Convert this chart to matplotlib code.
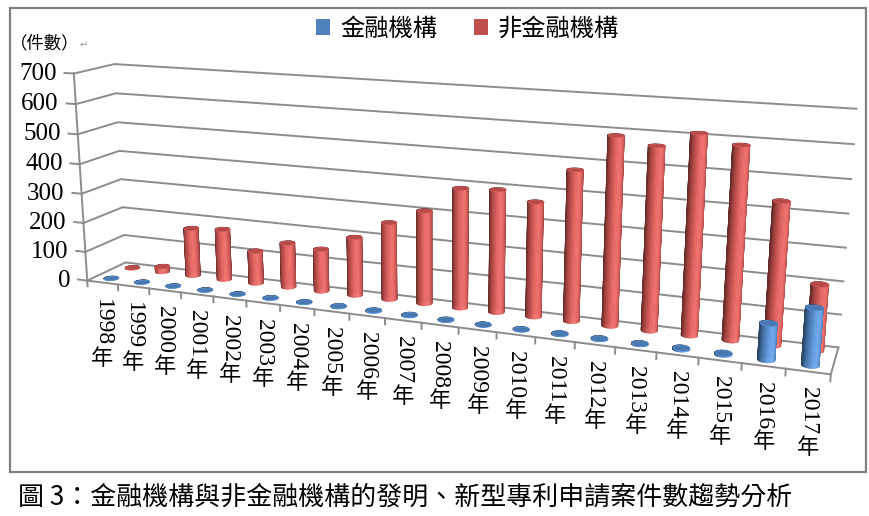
import numpy as np
import matplotlib
matplotlib.use('Agg')
import matplotlib.pyplot as plt
from matplotlib.patches import Patch, Rectangle
from matplotlib.transforms import offset_copy
from mpl_toolkits.mplot3d import proj3d
from mpl_toolkits.mplot3d.art3d import Poly3DCollection
import matplotlib.colors as mcolors

# data
years = ['1998', '1999', '2000', '2001', '2002', '2003', '2004',
         '2005', '2006', '2007', '2008', '2009', '2010', '2011',
         '2012', '2013', '2014', '2015', '2016', '2017']
fin = [1, 1, 1, 1, 1, 2, 2, 3, 3, 3, 2, 1, 1, 3, 3, 3, 5, 5, 110, 170]
nonfin = [3, 20, 167, 175, 112, 152, 143, 195, 255, 305, 388, 394, 366, 475,
          588, 566, 612, 586, 433, 200]
yticks = [0, 100, 200, 300, 400, 500, 600, 700]
series = ['金融機構', '非金融機構']
colors = ['#4F81BD', '#C0504D']

CJK = ['Noto Sans CJK TC', 'DejaVu Sans']
SERIF = ['Liberation Serif', 'Noto Sans CJK TC']
GRID = '#8c8c8c'
ELEV, AZIM = 14, -69

fig = plt.figure(figsize=(8.69, 5.16), dpi=100)

# square 3d axes spanning the whole width
ax = fig.add_axes([-0.013, -0.266, 1.0, 1.7], projection='3d', computed_zorder=False)
ax.set_axis_off()
ax.patch.set_alpha(0)
ax.set_proj_type('persp', focal_length=0.29)
ax.view_init(elev=ELEV, azim=AZIM)
x0, x1 = -0.5, len(years) - 0.5
y0, y1 = -0.42, 1.48
ax.set_xlim(x0, x1)
ax.set_ylim(y0, y1)
ax.set_zlim(0, yticks[-1])
ax.set_box_aspect((x1 - x0, y1 - y0, 5.8), zoom=0.92)
M = ax.get_proj()


def label2d(x, y, z, s, dx=0, dy=0, **kw):
    # put a flat 2d text next to a projected 3d point
    px, py, _ = proj3d.proj_transform(x, y, z, M)
    tr = offset_copy(ax.transData, fig=fig, x=dx, y=dy, units='dots')
    return ax.text2D(px, py, s, transform=tr, **kw)


# walls: gridlines on left wall + back wall
for v in yticks:
    ax.plot([x0, x0, x1], [y0, y1, y1], [v, v, v], color=GRID, lw=1.4,
            zorder=1, clip_on=False)
    ax.plot([x0 - 0.3, x0], [y0, y0], [v, v], color=GRID, lw=1.4,
            zorder=1, clip_on=False)
    label2d(x0, y0, v, str(v), dx=-17, ha='right', va='center', fontsize=18,
            family=SERIF)
# value axis and floor outline
ax.plot([x0, x0], [y0, y0], [0, yticks[-1]], color=GRID, lw=1.4, zorder=1, clip_on=False)
ax.plot([x0, x1, x1], [y0, y0, y1], [0, 0, 0], color=GRID, lw=1.4, zorder=1, clip_on=False)
for i in range(len(years) + 1):
    ax.plot([i - 0.5, i - 0.5], [y0, y0], [0, -20], color=GRID, lw=1.4,
            zorder=1, clip_on=False)
fs = 17
dig = fs * 100 / 72 * 0.5
for i, lab in enumerate(years):
    label2d(i, y0, 0, lab, dy=-16, rotation=-90, ha='center', va='top',
            fontsize=fs, family=SERIF)
    label2d(i, y0, 0, '年', dy=-16 - len(lab) * dig - 1, ha='center', va='top',
            fontsize=fs - 1, family=CJK)

cam = np.array([np.cos(np.deg2rad(AZIM)), np.sin(np.deg2rad(AZIM))])


def cylinder(xc, yc, h, color, z, r=0.2, n=40):
    th = np.linspace(0, 2 * np.pi, n + 1)
    xs = xc + r * np.cos(th)
    ys = yc + r * np.sin(th)
    base = np.array(mcolors.to_rgb(color))
    quads, cols = [], []
    for j in range(n):
        quads.append([(xs[j], ys[j], 0), (xs[j + 1], ys[j + 1], 0),
                      (xs[j + 1], ys[j + 1], h), (xs[j], ys[j], h)])
        tm = 0.5 * (th[j] + th[j + 1])
        t = np.cos(tm) * cam[0] + np.sin(tm) * cam[1]
        # light a bit from the left of the camera
        tl = np.cos(tm - 0.35) * cam[0] + np.sin(tm - 0.35) * cam[1]
        f = 0.64 + 0.5 * max(tl, 0) ** 0.8 - 0.1 * (1 - max(t, 0))
        c = np.clip(base * f + 0.1 * max(tl, 0) ** 6, 0, 1)
        cols.append(c)
    side = Poly3DCollection(quads, facecolors=cols, edgecolors=cols, linewidths=0.4)
    side.set_zorder(z)
    ax.add_collection3d(side)
    side.set_clip_on(False)
    top = Poly3DCollection([list(zip(xs, ys, np.full_like(xs, h)))],
                           facecolors=[np.clip(base * 0.93, 0, 1)],
                           edgecolors=[np.clip(base * 1.1, 0, 1)], linewidths=0.6)
    top.set_zorder(z + 0.5)
    ax.add_collection3d(top)
    top.set_clip_on(False)


row_y = [0.0, 1.06]
for i in range(len(years)):
    cylinder(i, row_y[1], nonfin[i], colors[1], 10 + i)
    cylinder(i, row_y[0], fin[i], colors[0], 40 + i)

# legend
handles = [Patch(facecolor=c, edgecolor='none') for c in colors]
fig.legend(handles, series, loc='center', bbox_to_anchor=(0.538, 0.944), ncol=2,
           frameon=False, prop={'family': CJK, 'size': 17.5}, handlelength=0.6,
           handleheight=0.65, handletextpad=0.4, columnspacing=1.5)

fig.text(10 / 869, 1 - 43 / 516, '（件數）', fontsize=12.5, family=CJK, va='center')
fig.text(80 / 869, 1 - 45 / 516, '↵', fontsize=7, color='#999999', va='center')

fig.patches.append(Rectangle((10 / 869, 1 - 472 / 516), 856 / 869, 464 / 516,
                             transform=fig.transFigure, fill=False,
                             edgecolor='#808080', lw=1.6))
fig.text(18 / 869, 1 - 497 / 516,
         '圖 3：金融機構與非金融機構的發明、新型專利申請案件數趨勢分析',
         fontsize=18.7, family=CJK, va='center')

fig.savefig('out.png', dpi=100)
